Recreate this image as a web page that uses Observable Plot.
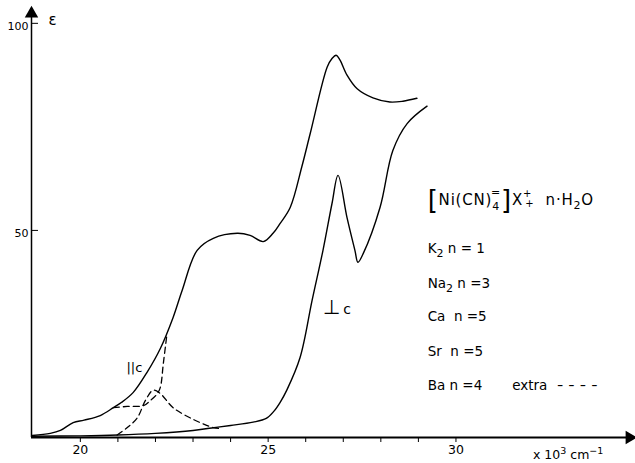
<!DOCTYPE html>
<html><head><meta charset="utf-8">
<script src="https://cdn.jsdelivr.net/npm/d3@7"></script>
<script src="https://cdn.jsdelivr.net/npm/@observablehq/plot@0.6"></script>
<style>body{margin:0;background:#fff} svg{display:block}</style>
</head><body><div id="chart"></div>
<script>
// ε (molar absorptivity) vs wavenumber (×10³ cm⁻¹)
const parallelX = [18.72,19.2,19.47,19.81,20.1,20.53,20.88,21.1,21.41,21.78,22.13,22.47,22.71,23.11,23.54,24.18,24.52,24.87,25.13,25.32,25.59,25.9,26.12,26.57,26.7,26.81,26.91,27.1,27.37,27.79,28.24,28.59,28.96];
const parallelY = [0.5,1.0,1.7,3.6,4.2,5.3,7.2,8.5,10.9,15.8,21.5,29.0,35.5,45.2,48.1,49.3,48.8,47.3,49.3,51.7,55.6,65.5,73.4,89.4,91.5,92.3,91.2,87.5,84.2,82.0,81.0,81.2,81.9];
const perpX = [18.72,20,21,22,23,23.5,24,24.6,24.95,25.15,25.32,25.5,25.85,26.17,26.46,26.7,26.86,27.1,27.31,27.39,27.53,27.98,28.32,28.7,29.23];
const perpY = [0.3,0.4,0.6,1.0,1.7,2.3,2.9,3.7,4.6,6.3,8.5,11.5,19.3,33.1,45.2,56.5,63.3,53.1,45.2,42.3,44.4,55.6,69.3,75.8,80.0];
const bandAX = [20.98,21.25,21.52,21.73,21.94,22.13,22.47,23.0,23.54,23.7];
const bandAY = [0.6,2.4,4.8,8.9,11.4,10.6,7.2,4.4,2.4,2.2];
const bandBX = [20.88,21.25,21.68,21.86,22.05,22.13,22.21,22.3];
const bandBY = [7.2,7.5,7.7,8.9,10.6,12.1,17.9,24.5];

const xTicks = [20,21,22,23,24,25,26,27,28,29,30];
const xTickLabels = [20,25,30];
const yTicks = [50,100];
const legendRows = [["K","2"," n = 1"],["Na","2"," n =3"],["Ca","","  n =5"],["Sr","","  n =5"],["Ba",""," n =4"]];
const extraLabel = "extra";
const extraDashes = "----";

const toRows = (xs, ys) => xs.map((x, i) => ({x, y: ys[i]}));
const parallel = toRows(parallelX, parallelY);
const perp = toRows(perpX, perpY);
const bandA = toRows(bandAX, bandAY);
const bandB = toRows(bandBX, bandBY);

const xMin = 18.7, xMax = 34.7, yMax = 103.1;
const font = "DejaVu Sans, sans-serif";

const svg = Plot.plot({
  width: 635, height: 463,
  marginLeft: 31, marginRight: 3, marginTop: 10, marginBottom: 26,
  style: {fontFamily: font, background: "#fff", color: "#000"},
  x: {domain: [xMin, xMax], axis: null},
  y: {domain: [0, yMax], axis: null},
  marks: [
    Plot.axisX({ticks: xTicks, tickSize: 5, tickPadding: 3, fontSize: 12.5, label: null,
      tickFormat: d => xTickLabels.includes(d) ? String(d) : ""}),
    Plot.axisY({ticks: yTicks, tickSize: -7, tickFormat: () => "", label: null}),
    Plot.axisY({ticks: yTicks, tickSize: 0, tickPadding: 3, dy: 3, fontSize: 11, label: null}),
    Plot.ruleY([0], {strokeWidth: 2}),
    Plot.ruleX([xMin], {strokeWidth: 1.5}),
    Plot.dot([{x: xMax, y: 0}], {x: "x", y: "y", symbol: "triangle", r: 5, rotate: 90, fill: "black", stroke: null, dx: -3}),
    Plot.dot([{x: xMin, y: yMax}], {x: "x", y: "y", symbol: "triangle", r: 5, fill: "black", stroke: null, dy: 3}),
    Plot.line(parallel, {x: "x", y: "y", curve: "catmull-rom", strokeWidth: 1.4}),
    Plot.line(perp, {x: "x", y: "y", curve: "catmull-rom", strokeWidth: 1.4}),
    Plot.line(bandA, {x: "x", y: "y", curve: "catmull-rom", strokeWidth: 1.3, strokeDasharray: "6,4"}),
    Plot.line(bandB, {x: "x", y: "y", curve: "catmull-rom", strokeWidth: 1.3, strokeDasharray: "6,4"}),
    Plot.text(["ε"], {x: xMin, y: yMax, text: d => d, dx: 21, dy: 10, fontSize: 15, textAnchor: "middle"}),
    Plot.text(["||c"], {x: 21.44, y: 16.9, text: d => d, fontSize: 13, textAnchor: "middle"})
  ]
});
document.getElementById("chart").appendChild(svg);

const sx = svg.scale("x"), sy = svg.scale("y");
const g = d3.select(svg).append("g").attr("font-family", font).attr("fill", "black")
  .attr("text-anchor", "start").style("white-space", "pre");
const lx = sx.apply(29.26);

// ⊥c label
const pc = g.append("text").attr("x", sx.apply(26.47)).attr("y", sy.apply(29.8));
pc.append("tspan").attr("font-size", 20).text("⊥");
pc.append("tspan").attr("font-size", 14).attr("dx", 3).text("c");

// Title formula
const t = g.append("text").attr("x", lx).attr("y", sy.apply(56.0)).attr("font-size", 15).attr("letter-spacing", 0.8);
t.append("tspan").attr("font-size", 26).attr("dy", 4).text("[");
t.append("tspan").attr("dy", -4).text("Ni(CN)");
t.append("tspan").attr("font-size", 11).attr("dy", 5).text("4");
t.append("tspan").attr("font-size", 11).attr("dx", -9).attr("dy", -14).text("=");
t.append("tspan").attr("font-size", 26).attr("dy", 13).text("]");
t.append("tspan").attr("dy", -4).text("X");
t.append("tspan").attr("font-size", 10).attr("dy", -8).text("+");
t.append("tspan").attr("font-size", 10).attr("dx", -7).attr("dy", 10).text("+");
t.append("tspan").attr("dy", -2).text("  n·H");
t.append("tspan").attr("font-size", 11).attr("dy", 4).text("2");
t.append("tspan").attr("dy", -4).text("O");

// Legend rows
const rowY = [44.5, 36.0, 28.0, 19.5, 11.3];
legendRows.forEach((r, i) => {
  const tt = g.append("text").attr("x", lx).attr("y", sy.apply(rowY[i])).attr("font-size", 13.5);
  tt.append("tspan").text(r[0]);
  if (r[1]) tt.append("tspan").attr("font-size", 11).attr("dy", 4).text(r[1]);
  tt.append("tspan").attr("dy", r[1] ? -4 : 0).text(r[2]);
});
g.append("text").attr("x", sx.apply(31.51)).attr("y", sy.apply(rowY[4])).attr("font-size", 13.5).text(extraLabel);
g.append("text").attr("x", sx.apply(32.7)).attr("y", sy.apply(rowY[4])).attr("font-size", 13.5)
  .attr("textLength", 46).attr("lengthAdjust", "spacingAndGlyphs").attr("letter-spacing", 4).text(extraDashes);

// x-axis unit label
const u = g.append("text").attr("x", 533).attr("y", 459).attr("font-size", 12.5);
u.append("tspan").text("x 10");
u.append("tspan").attr("font-size", 9.5).attr("dy", -5).text("3");
u.append("tspan").attr("dy", 5).text(" cm");
u.append("tspan").attr("font-size", 9.5).attr("dy", -5).text("−1");
</script></body></html>
